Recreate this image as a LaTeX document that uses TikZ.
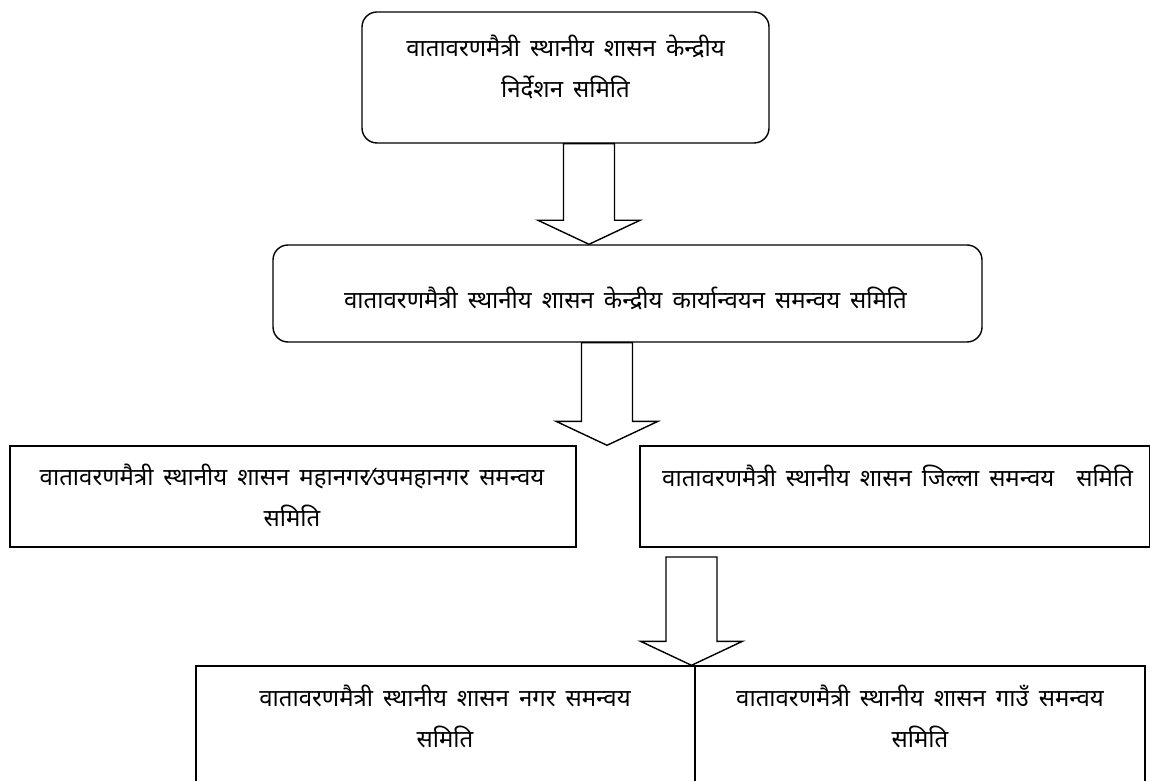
\documentclass[tikz,border=0pt]{standalone}
\usepackage{fontspec}
\newfontfamily\devfont[Script=Devanagari]{Noto Sans}
\usetikzlibrary{calc}

\newcommand{\boxfont}{\devfont\fontsize{24}{41}\selectfont\spaceskip=10pt plus 2pt minus 1pt\relax}

\tikzset{
  roundbox/.style={draw, line width=1.4pt, rounded corners=15pt, inner sep=0pt},
  plainbox/.style={draw, line width=1.4pt, inner sep=0pt},
  boxtext/.style={align=center, inner sep=0pt, font=\boxfont},
  arrowline/.style={draw, fill=white, line width=1.4pt, line join=miter}
}

% block arrow: #1 middle of the shaft top, #2 the tip
\newcommand{\blockarrow}[2]{%
\draw[arrowline] ($(#1)+(-25.5,0)$) -- ($(#2)+(-25.5,24)$) -- ($(#2)+(-51,24)$) -- (#2)
  -- ($(#2)+(51,24)$) -- ($(#2)+(25.5,24)$) -- ($(#1)+(25.5,0)$) -- cycle;}

\begin{document}
\begin{tikzpicture}[scale=1.000000,x=1pt,y=1pt]
\useasboundingbox (0.000000, 0.000000) rectangle (1150.000000, 780.000000);
\fill[color=white] (0.000000, 0.000000) rectangle (1150.000000, 780.000000);
% Drawing boxes
% Box 1: central steering committee
\node[roundbox, minimum width=407pt, minimum height=131pt] (steer) at (565.500000, 702.500000) {};
\node[boxtext] (steertext) at (565.500000, 713.000000) {वातावरणमैत्री स्थानीय शासन केन्द्रीय\\निर्देशन समिति};
% Box 2: central implementation committee
\node[roundbox, minimum width=709pt, minimum height=97pt] (central) at (627.500000, 486.500000) {};
\node[boxtext] (centraltext) at (625.500000, 481.000000) {वातावरणमैत्री स्थानीय शासन केन्द्रीय कार्यान्वयन समन्वय समिति};
% Box 3: metropolitan committee
\node[plainbox, minimum width=566pt, minimum height=101pt] (metro) at (293.000000, 283.500000) {};
\node[boxtext] (metrotext) at (292.000000, 285.000000) {वातावरणमैत्री स्थानीय शासन महानगर⁄उपमहानगर समन्वय\\समिति};
% Box 4: district committee
\node[plainbox, minimum width=509.5pt, minimum height=101pt] (district) at (894.750000, 283.500000) {};
\node[boxtext, anchor=west] (districttext) at (662.000000, 304.000000) {वातावरणमैत्री स्थानीय शासन जिल्ला समन्वय\hspace{12pt} समिति};
% Box 5: municipal committee
\node[plainbox, minimum width=499pt, minimum height=134pt] (municipal) at (445.500000, 47.000000) {};
\node[boxtext] (municipaltext) at (445.000000, 64.000000) {वातावरणमैत्री स्थानीय शासन नगर समन्वय\\समिति};
% Box 6: village committee
\node[plainbox, minimum width=450pt, minimum height=134pt] (village) at (920.000000, 47.000000) {};
\node[boxtext] (villagetext) at (920.000000, 64.000000) {वातावरणमैत्री स्थानीय शासन गाउँ समन्वय\\समिति};
% Done with boxes; drawing arrows
\path (steer.south) ++(23.500000, 0.000000) coordinate (a1s);
\coordinate (a1t) at (a1s |- central.north);
\blockarrow{a1s}{a1t}
\path (central.south) ++(-20.500000, 0.000000) coordinate (a2s);
\coordinate (a2t) at (a2s |- metro.north);
\blockarrow{a2s}{a2t}
\coordinate (a3s) at (691.500000, 223.000000);
\coordinate (a3t) at (a3s |- municipal.north);
\blockarrow{a3s}{a3t}
% Done with arrows
\end{tikzpicture}
\end{document}
